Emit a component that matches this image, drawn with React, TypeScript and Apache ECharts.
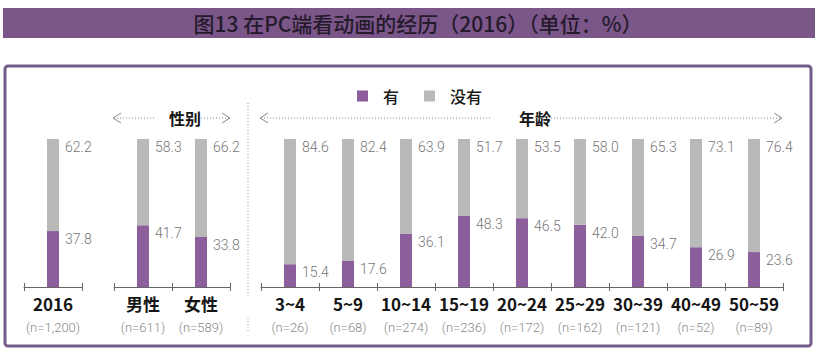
import React, { useEffect, useRef } from "react";
import * as echarts from "echarts";

const categories = ["2016", "男性", "女性", "3~4", "5~9", "10~14", "15~19", "20~24", "25~29", "30~39", "40~49", "50~59"];
const sampleSizes = ["n=1,200", "n=611", "n=589", "n=26", "n=68", "n=274", "n=236", "n=172", "n=162", "n=121", "n=52", "n=89"];
const haveValues = [37.8, 41.7, 33.8, 15.4, 17.6, 36.1, 48.3, 46.5, 42.0, 34.7, 26.9, 23.6];
const notHaveValues = [62.2, 58.3, 66.2, 84.6, 82.4, 63.9, 51.7, 53.5, 58.0, 65.3, 73.1, 76.4];
const groupRanges: [number, number][] = [[0, 1], [1, 3], [3, 12]];
const groupTitles = ["性别", "年龄"];
const seriesNames = ["有", "没有"];
const titleText = "图13 在PC端看动画的经历（2016）（单位：%）";

const PURPLE = "#8c5f9c";
const GRAY = "#b9b9b9";
const FRAME = "#735b8a";
const LIGHT = "Roboto, 'Liberation Sans', sans-serif";
const CJK = "'Noto Sans CJK SC', sans-serif";

export default function App() {
  const ref = useRef<HTMLDivElement>(null);
  useEffect(() => {
    if (!ref.current) return;
    const chart = echarts.init(ref.current, null, { renderer: "svg" });
    const gridBoxes = [
      { left: 24, width: 58 },
      { left: 114, width: 116 },
      { left: 261, width: 522 },
    ];
    const grids = gridBoxes.map((g) => ({ left: g.left, width: g.width, top: 139, height: 148, containLabel: false }));
    const xAxes: any[] = [];
    const yAxes: any[] = [];
    const series: any[] = [];
    groupRanges.forEach(([s, e], gi) => {
      const cats = categories.slice(s, e);
      const ns = sampleSizes.slice(s, e);
      xAxes.push({
        type: "category",
        gridIndex: gi,
        data: cats,
        position: "bottom",
        axisLine: { show: true, lineStyle: { color: "#666", width: 1 } },
        axisTick: { show: true, inside: true, length: 4, lineStyle: { color: "#666" } },
        axisLabel: {
          margin: 4,
          interval: 0,
          formatter: (v: string) => {
            const i = cats.indexOf(v);
            return `{a|${v}}\n{b|(${ns[i]})}`;
          },
          rich: {
            a: { fontSize: 17, fontWeight: "bold", color: "#151515", fontFamily: CJK, lineHeight: 24 },
            b: { fontSize: 13, fontWeight: 300, color: "#8a8a8a", fontFamily: LIGHT, lineHeight: 24 },
          },
        },
      });
      xAxes.push({
        type: "category",
        gridIndex: gi,
        data: cats,
        position: "bottom",
        axisLine: { show: false },
        axisTick: { show: true, inside: false, length: 4, lineStyle: { color: "#666" } },
        axisLabel: { show: false },
      });
      yAxes.push({ type: "value", gridIndex: gi, min: 0, max: 100, show: false, splitLine: { show: false } });
      const mkLabel = {
        show: true,
        position: [18, 1],
        align: "left",
        verticalAlign: "top",
        color: "#767676",
        fontSize: 14,
        fontWeight: 300,
        fontFamily: LIGHT,
        formatter: (p: any) => Number(p.value).toFixed(1),
      };
      series.push({
        name: seriesNames[0],
        type: "bar",
        stack: "g" + gi,
        xAxisIndex: gi * 2,
        yAxisIndex: gi,
        barWidth: 12,
        itemStyle: { color: PURPLE },
        label: mkLabel,
        data: haveValues.slice(s, e),
      });
      series.push({
        name: seriesNames[1],
        type: "bar",
        stack: "g" + gi,
        xAxisIndex: gi * 2,
        yAxisIndex: gi,
        barWidth: 12,
        itemStyle: { color: GRAY },
        label: mkLabel,
        data: notHaveValues.slice(s, e),
      });
    });

    const dotted = { stroke: "#8a8a8a", lineWidth: 1, lineDash: [1, 2] };
    const arrowStyle = { stroke: "#8a8a8a", lineWidth: 1, fill: null };
    const graphic: any[] = [
      { type: "rect", shape: { x: 3, y: 8, width: 812, height: 30 }, style: { fill: "#7a5689" }, z: 0 },
      {
        type: "text",
        x: 418,
        y: 23,
        style: { text: titleText, fill: "#261b2c", fontSize: 21, fontWeight: 500, fontFamily: CJK, align: "center", verticalAlign: "middle" },
      },
      { type: "rect", shape: { x: 5, y: 66, width: 806, height: 280, r: 3 }, style: { fill: "none", stroke: FRAME, lineWidth: 3 }, z: 0 },
      // separator
      { type: "line", shape: { x1: 248, y1: 103, x2: 248, y2: 296 }, style: { stroke: "#999", lineWidth: 1, lineDash: [1, 2] } },
      { type: "line", shape: { x1: 248, y1: 318, x2: 248, y2: 333 }, style: { stroke: "#999", lineWidth: 1, lineDash: [1, 2] } },
      // gender arrow
      { type: "polyline", shape: { points: [[121, 113], [113, 118], [121, 123]] }, style: arrowStyle },
      { type: "line", shape: { x1: 114, y1: 118, x2: 154, y2: 118 }, style: dotted },
      { type: "text", x: 185, y: 118, style: { text: groupTitles[0], fill: "#151515", fontSize: 16, fontWeight: "bold", fontFamily: CJK, align: "center", verticalAlign: "middle" } },
      { type: "line", shape: { x1: 201, y1: 118, x2: 229, y2: 118 }, style: dotted },
      { type: "polyline", shape: { points: [[222, 113], [230, 118], [222, 123]] }, style: arrowStyle },
      // age arrow
      { type: "polyline", shape: { points: [[268, 113], [260, 118], [268, 123]] }, style: arrowStyle },
      { type: "line", shape: { x1: 261, y1: 118, x2: 491, y2: 118 }, style: dotted },
      { type: "text", x: 535, y: 118, style: { text: groupTitles[1], fill: "#151515", fontSize: 16, fontWeight: "bold", fontFamily: CJK, align: "center", verticalAlign: "middle" } },
      { type: "line", shape: { x1: 551, y1: 118, x2: 781, y2: 118 }, style: dotted },
      { type: "polyline", shape: { points: [[774, 113], [782, 118], [774, 123]] }, style: arrowStyle },
    ];

    chart.setOption({
      animation: false,
      backgroundColor: "#ffffff",
      legend: {
        data: seriesNames,
        left: 352,
        top: 83,
        icon: "rect",
        itemWidth: 11,
        itemHeight: 11,
        itemGap: 25,
        textStyle: { fontSize: 16, fontWeight: 500, color: "#1a1a1a", fontFamily: CJK, padding: [0, 0, 0, 10] },
      },
      grid: grids,
      xAxis: xAxes,
      yAxis: yAxes,
      series,
      graphic,
    });
    return () => chart.dispose();
  }, []);
  return <div ref={ref} style={{ position: "fixed", left: 0, top: 0, width: 819, height: 355 }} />;
}
